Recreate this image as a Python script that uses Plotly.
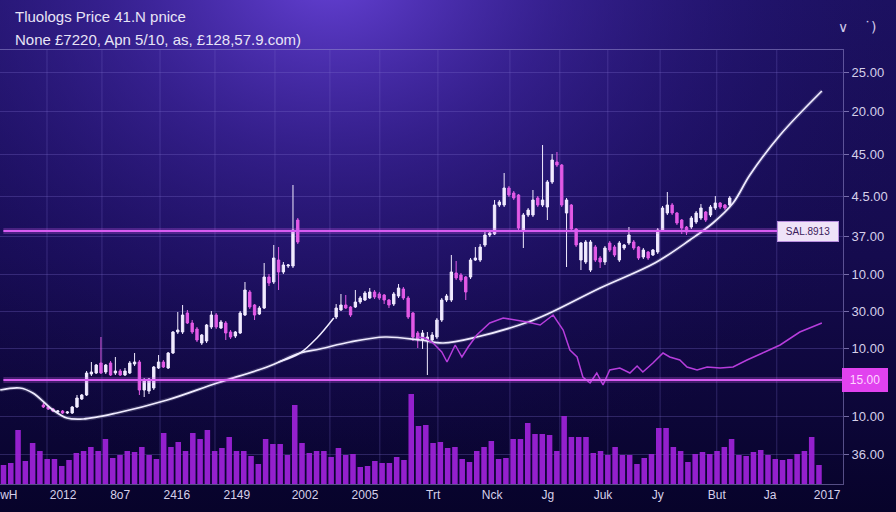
import base64
import plotly.graph_objects as go

# ---------------- data ----------------
title_line1 = "Tluologs Price 41.N pnice"
title_line2 = "None £7220, Apn 5/10, as, £128,57.9.com)"

candle_session = list(range(8, 62)) + list(range(69, 152))
candle_open = [7.9, 7.7, 7.5, 7.2, 7.3, 7.1, 7.1, 7.7, 8.5, 8.9, 11.0, 11.1, 12.1, 11.2, 12.1, 11.1, 11.3, 10.9,
               11.1, 12.0, 12.2, 9.4, 9.3, 9.6, 11.6, 12.2, 11.6, 13.1, 15.2, 15.2, 17.1, 16.1, 15.5, 14.1, 14.3,
               15.7, 16.9, 15.6, 16.1, 15.2, 14.8, 15.1, 16.9, 19.2, 17.9, 17.0, 17.6, 20.7, 20.2, 22.4, 21.2,
               21.8, 21.8, 26.4,
               16.7, 17.4, 17.9, 17.7, 17.7, 18.2, 18.4, 18.6, 19.2, 19.0, 18.9, 18.4, 18.0, 18.8, 19.5, 18.6,
               17.1, 15.1, 14.4, 14.4, 14.4, 14.7, 16.4, 18.4, 18.4, 21.1, 20.9, 20.7, 20.7, 22.4, 22.4, 23.9,
               24.9, 25.0, 27.9, 27.9, 29.6, 29.1, 28.9, 25.4, 26.9, 26.9, 28.6, 27.9, 27.7, 30.2, 32.2, 31.9,
               27.1, 27.9, 25.5, 22.4, 22.2, 21.4, 23.7, 22.6, 22.2, 24.1, 23.7, 22.4, 23.6, 24.1, 24.2, 23.7,
               22.7, 23.2, 22.9, 23.2, 25.4, 27.1, 27.9, 27.1, 26.4, 25.7, 25.7, 26.2, 26.6, 27.2, 26.9, 27.6,
               28.1, 27.9, 27.9]
candle_high = [8.1, 7.8, 7.6, 7.4, 7.4, 7.3, 7.8, 8.9, 9.0, 11.3, 12.2, 12.0, 14.7, 12.0, 12.3, 12.7, 11.5, 11.6,
               12.3, 13.1, 12.4, 10.6, 10.6, 11.8, 12.9, 12.4, 13.2, 15.3, 17.2, 17.9, 17.4, 16.4, 15.7, 15.0, 16.0,
               17.3, 17.1, 16.4, 16.3, 15.4, 15.3, 17.3, 20.2, 19.4, 18.0, 17.8, 22.1, 21.0, 23.9, 23.7, 22.2,
               22.0, 29.9, 26.6,
               18.0, 19.0, 18.9, 17.8, 19.4, 18.8, 19.3, 19.6, 19.4, 19.2, 19.0, 18.5, 19.2, 20.0, 19.7, 18.8,
               17.2, 15.3, 15.4, 15.2, 15.2, 16.6, 18.6, 19.0, 22.9, 22.3, 21.1, 20.8, 22.6, 23.7, 24.0, 25.2,
               25.3, 28.4, 28.4, 31.1, 29.8, 29.3, 29.0, 27.1, 27.6, 29.4, 28.8, 33.9, 30.4, 33.0, 33.2, 32.0,
               28.6, 28.0, 25.6, 24.2, 24.4, 24.4, 23.9, 22.8, 23.8, 24.3, 23.9, 24.3, 24.0, 25.7, 24.4, 23.8,
               23.6, 23.3, 23.5, 25.6, 27.8, 29.2, 28.1, 27.2, 26.5, 25.8, 26.8, 27.3, 28.0, 27.3, 27.9, 28.8,
               28.2, 28.0, 28.8]
candle_low = [7.6, 7.4, 7.2, 7.1, 7.0, 7.0, 7.0, 7.6, 8.4, 8.8, 10.8, 11.0, 11.0, 11.0, 10.8, 10.9, 10.8, 10.8,
              11.0, 11.8, 8.9, 8.7, 9.0, 9.4, 11.5, 11.6, 11.5, 13.0, 15.0, 15.0, 16.0, 15.0, 14.2, 13.9, 14.1,
              15.5, 15.5, 15.5, 14.4, 14.5, 14.6, 15.0, 16.8, 17.5, 16.4, 16.9, 17.5, 19.8, 20.0, 19.4, 21.0,
              21.6, 21.6, 24.0,
              16.5, 17.3, 17.5, 16.7, 17.6, 18.0, 18.3, 18.5, 18.5, 18.4, 18.0, 17.6, 17.8, 18.6, 18.4, 16.5,
              14.3, 13.6, 13.5, 10.9, 14.2, 14.5, 16.2, 18.2, 18.2, 20.4, 20.2, 18.4, 20.5, 22.3, 22.2, 23.7,
              24.7, 24.9, 27.7, 27.7, 28.7, 28.4, 25.4, 23.6, 26.7, 26.7, 27.7, 27.7, 26.4, 30.0, 31.7, 27.7,
              21.7, 25.3, 23.7, 21.4, 22.0, 21.2, 22.2, 21.6, 21.9, 23.2, 22.7, 22.2, 23.4, 23.9, 23.4, 22.4,
              22.5, 22.4, 22.8, 23.0, 25.2, 26.9, 26.9, 25.9, 25.0, 24.9, 25.5, 26.0, 26.4, 26.2, 26.7, 27.4,
              27.5, 27.4, 27.7]
candle_close = [7.7, 7.5, 7.3, 7.3, 7.1, 7.2, 7.7, 8.6, 8.9, 11.1, 11.2, 11.9, 11.1, 11.9, 10.9, 11.3, 10.9, 11.3,
                12.1, 12.2, 9.4, 10.4, 10.5, 11.7, 12.2, 11.7, 13.1, 15.2, 15.4, 16.9, 16.1, 15.2, 14.4, 14.9, 15.9,
                16.9, 15.7, 16.2, 15.1, 14.7, 15.2, 17.1, 19.4, 17.7, 16.9, 17.6, 20.7, 20.1, 22.6, 21.2, 21.9,
                21.9, 25.4, 24.2,
                17.6, 17.9, 17.6, 16.9, 18.2, 18.6, 19.1, 19.2, 18.7, 18.6, 18.4, 17.9, 19.0, 19.6, 18.6, 16.7,
                14.7, 14.4, 15.1, 14.7, 14.9, 16.4, 18.4, 18.8, 21.2, 20.6, 20.4, 19.2, 22.4, 22.6, 23.7, 24.9,
                25.1, 27.9, 28.2, 29.6, 28.9, 28.6, 25.6, 26.9, 27.4, 28.4, 27.9, 28.4, 30.2, 32.4, 31.9, 27.9,
                28.4, 25.5, 23.9, 24.1, 24.2, 24.2, 22.4, 22.2, 23.6, 23.4, 22.9, 24.1, 23.9, 24.9, 23.6, 22.6,
                23.4, 22.6, 23.4, 25.4, 27.6, 27.9, 27.1, 26.1, 25.6, 25.2, 26.6, 27.1, 27.6, 26.4, 27.7, 28.1,
                27.7, 27.6, 28.6]

ma_session = [-1, 3.1, 5.8, 10, 12.9, 16.3, 23.3, 33.8, 44.2, 54.6, 61.5, 65.6, 71.9, 79.2, 86.5, 91.3, 98.3,
              109, 113.5, 124, 135.4, 142.7, 147.5, 151.7, 155.2, 161.5, 170.2]
ma_value = [9.4, 9.6, 9.1, 7.4, 6.6, 6.5, 7.1, 8.4, 10.1, 11.7, 13.1, 13.5, 14.2, 14.7, 14.4, 14.1, 14.7,
            16.2, 17.1, 19.6, 22.1, 24.4, 26.1, 28.1, 30.9, 34.9, 39.3]

fast_session = [57, 61.5, 65, 68.5]
fast_value = [12.2, 13.1, 14.6, 16.6]

osc_session = [86, 87.5, 89.2, 91, 92.1, 93.8, 95.2, 96.5, 98.3, 101, 103.8, 106.7, 108.8, 111.5, 114.2,
               116.3, 117.7, 119.2, 120.4, 121.9, 123.3, 124.6, 126, 128.1, 130.2, 131.7, 132.9, 135, 137.1,
               138.5, 140.6, 142.1, 144.2, 146.3, 149, 151.7, 154.6, 158.3, 161.5, 165.6, 170.2]
osc_value = [14.7, 14.6, 14.1, 13.2, 12.2, 13.9, 12.7, 13.7, 14.9, 16.1, 16.6, 16.4, 16.2, 15.9, 16.9,
             15.4, 13.4, 12.7, 10.7, 10.1, 11.1, 9.9, 11.4, 11.6, 11.1, 11.8, 11.2, 12.1, 13.1,
             12.7, 12.4, 11.7, 11.4, 11.7, 11.6, 11.7, 12.4, 13.2, 13.9, 15.2, 16.1]

volume = [19, 21, 54, 23, 41, 33, 25, 25, 18, 24, 31, 33, 37, 33, 45, 26, 29, 33, 32, 37,
          29, 25, 51, 37, 42, 33, 51, 45, 54, 33, 36, 47, 33, 33, 28, 20, 45, 40, 40, 29,
          79, 41, 31, 33, 33, 27, 36, 29, 30, 17, 18, 23, 21, 21, 27, 24, 90, 58, 59, 41,
          42, 36, 37, 25, 22, 33, 37, 43, 25, 26, 45, 45, 61, 50, 50, 49, 33, 68, 47, 47,
          47, 31, 33, 29, 37, 29, 29, 20, 26, 30, 56, 56, 37, 33, 22, 30, 32, 30, 33, 37,
          45, 29, 28, 32, 34, 29, 25, 24, 25, 30, 33, 47, 19]
volume_index = list(range(len(volume)))

level_values = [25.3, 10.4]
level_labels = ["SAL.8913", "15.00"]

x_label_sessions = [0.8, 12.1, 24.0, 35.8, 48.3, 62.5, 75.0, 89.2, 101.5, 113.1, 124.6, 136.0, 148.3, 159.4, 171.3]
x_labels = ["wH", "2012", "8o7", "2416", "2149", "2002", "2005", "Trt", "Nck", "Jg", "Juk", "Jy", "But", "Ja", "2017"]
x_grid_sessions = [8.75, 20.2, 32.3, 43.75, 56.25, 67.7, 78.1, 90.2, 105.2, 115.6, 125.6, 136.5, 148.3, 160.8]

y_tick_values = [41.2, 37.3, 33.0, 28.8, 24.8, 21.0, 17.3, 13.6, 6.8, 3.0]
y_tick_labels = ["25.00", "20.00", "45.00", "4.5.00", "37.00", "10.00", "30.00", "10.00", "10.00", "36.00"]

# ---------------- styling ----------------
W, H = 896, 512
ML, MR, MT, MB = 0, 53, 50, 28
PW, PH = W - ML - MR, H - MT - MB
X_RANGE = [-1.04, 174.6]
Y_RANGE = [0, 43.4]

FONT = "Liberation Sans, Arial, sans-serif"
TXT = "#d6d0ea"
GRID = "rgba(125,110,205,0.30)"
AXIS = "rgba(150,140,205,0.55)"
PINK = "#d85cf2"
UP = "#f1ebff"
DOWN = "#e35ae6"
VOLC = "#9c22d6"

svg = f'''<svg xmlns="http://www.w3.org/2000/svg" width="{W}" height="{H}" viewBox="0 0 {W} {H}">
<defs>
<linearGradient id="v" x1="0" y1="0" x2="0" y2="1">
<stop offset="0" stop-color="#1c1160"/>
<stop offset="0.5" stop-color="#150b4e"/>
<stop offset="1" stop-color="#07032a"/>
</linearGradient>
<radialGradient id="r" gradientUnits="userSpaceOnUse" cx="330" cy="-30" r="520" gradientTransform="translate(330 -30) scale(1.25 1) translate(-330 30)">
<stop offset="0" stop-color="#6a44dc" stop-opacity="0.95"/>
<stop offset="0.35" stop-color="#4a2cb4" stop-opacity="0.55"/>
<stop offset="0.7" stop-color="#2c1886" stop-opacity="0.22"/>
<stop offset="1" stop-color="#150b4e" stop-opacity="0"/>
</radialGradient>
</defs>
<rect width="{W}" height="{H}" fill="url(#v)"/>
<rect width="{W}" height="{H}" fill="url(#r)"/>
</svg>'''
bg_src = "data:image/svg+xml;base64," + base64.b64encode(svg.encode()).decode()

fig = go.Figure()

# vertical grid lines as one trace (drawn first, underneath everything)
grid_x, grid_y = [], []
for xs in x_grid_sessions:
    grid_x += [xs, xs, None]
    grid_y += [Y_RANGE[0], Y_RANGE[1], None]
fig.add_trace(go.Scatter(x=grid_x, y=grid_y, mode="lines", line=dict(color=GRID, width=1),
                         hoverinfo="skip", showlegend=False, cliponaxis=False))

fig.add_trace(go.Bar(
    x=volume_index, y=volume, xaxis="x2", yaxis="y2",
    marker=dict(color=VOLC, line=dict(width=0)), width=0.76, opacity=0.95,
    hoverinfo="skip", showlegend=False))

fig.add_trace(go.Scatter(
    x=ma_session, y=ma_value, mode="lines", line=dict(color="rgba(240,236,255,0.18)", width=4, shape="spline"),
    hoverinfo="skip", showlegend=False))
fig.add_trace(go.Scatter(
    x=ma_session, y=ma_value, mode="lines", line=dict(color="#f0ecff", width=1.7, shape="spline"),
    hoverinfo="skip", showlegend=False))
fig.add_trace(go.Scatter(
    x=fast_session, y=fast_value, mode="lines", line=dict(color="#f0ecff", width=1.5, shape="spline"),
    hoverinfo="skip", showlegend=False))
fig.add_trace(go.Scatter(
    x=osc_session, y=osc_value, mode="lines", line=dict(color="#b63ddc", width=1.5),
    hoverinfo="skip", showlegend=False))

fig.add_trace(go.Candlestick(
    x=candle_session, open=candle_open, high=candle_high, low=candle_low, close=candle_close,
    increasing=dict(line=dict(color=UP, width=1), fillcolor=UP),
    decreasing=dict(line=dict(color=DOWN, width=1), fillcolor=DOWN),
    whiskerwidth=0, hoverinfo="skip", showlegend=False))

shapes = []
level_x1 = [0.96, 1.0]
for lv, x1 in zip(level_values, level_x1):
    shapes.append(dict(type="line", xref="paper", yref="y", x0=0.004, x1=x1, y0=lv, y1=lv,
                       line=dict(color="rgba(216,92,242,0.25)", width=6), layer="above"))
    shapes.append(dict(type="line", xref="paper", yref="y", x0=0.004, x1=x1, y0=lv, y1=lv,
                       line=dict(color=PINK, width=2), layer="above"))

annotations = [
    dict(text=title_line1, xref="paper", yref="paper", x=13 / PW, y=1 + 34 / PH, xanchor="left",
         yanchor="middle", showarrow=False, font=dict(family=FONT, size=15, color="#e8e4f6")),
    dict(text=title_line2, xref="paper", yref="paper", x=13 / PW, y=1 + 11 / PH, xanchor="left",
         yanchor="middle", showarrow=False, font=dict(family=FONT, size=15, color="#e8e4f6")),
    dict(text="\u2228", xref="paper", yref="paper", x=843 / PW, y=1 + 23 / PH, xanchor="center",
         yanchor="middle", showarrow=False, font=dict(family="DejaVu Sans", size=14, color="#cfc8e8")),
    dict(text="\u02d9)", xref="paper", yref="paper", x=870 / PW, y=1 + 23 / PH, xanchor="center",
         yanchor="middle", showarrow=False, font=dict(family="DejaVu Sans", size=14, color="#cfc8e8")),
    dict(text=level_labels[0], xref="paper", yref="y", x=808 / PW, y=level_values[0], xanchor="center",
         yanchor="middle", showarrow=False, bgcolor="#efe3f8", bordercolor="#b88ede", borderwidth=1,
         borderpad=2, width=56, height=15, font=dict(family=FONT, size=10, color="#3b1c5c")),
    dict(text=level_labels[1], xref="paper", yref="y", x=865 / PW, y=level_values[1], xanchor="center",
         yanchor="middle", showarrow=False, bgcolor="#e142ef", borderwidth=0, borderpad=3,
         width=40, height=18, font=dict(family=FONT, size=12, color="#ffd6ff")),
]

fig.update_layout(
    width=W, height=H,
    margin=dict(l=ML, r=MR, t=MT, b=MB),
    paper_bgcolor="#0b0632", plot_bgcolor="rgba(0,0,0,0)",
    font=dict(family=FONT, color=TXT),
    showlegend=False, hovermode=False, dragmode=False,
    images=[dict(source=bg_src, xref="paper", yref="paper", x=0, y=1 + MT / PH,
                 sizex=W / PW, sizey=H / PH, xanchor="left", yanchor="top",
                 sizing="stretch", layer="below")],
    xaxis=dict(range=X_RANGE, tickmode="array", tickvals=x_label_sessions, ticktext=x_labels,
               showgrid=False, zeroline=False, ticks="", ticklabeloverflow="allow",
               showline=True, mirror=True, linecolor=AXIS, linewidth=1,
               tickfont=dict(family=FONT, size=12, color=TXT),
               rangeslider=dict(visible=False)),
    xaxis2=dict(range=[-0.48, 115.3], overlaying="x", anchor="y", visible=False),
    yaxis=dict(range=Y_RANGE, side="right", tickmode="array", tickvals=y_tick_values,
               ticktext=y_tick_labels, showgrid=True, gridcolor=GRID, gridwidth=1, zeroline=False,
               ticks="outside", ticklen=5, tickcolor="rgba(160,150,210,0.7)", showline=True,
               linecolor=AXIS, linewidth=1,
               tickfont=dict(family=FONT, size=13, color=TXT)),
    yaxis2=dict(range=[0, 434], overlaying="y", anchor="x2", visible=False),
    shapes=shapes, annotations=annotations,
)

fig.write_html("out.html", include_plotlyjs=True, config=dict(displayModeBar=False, staticPlot=True))
